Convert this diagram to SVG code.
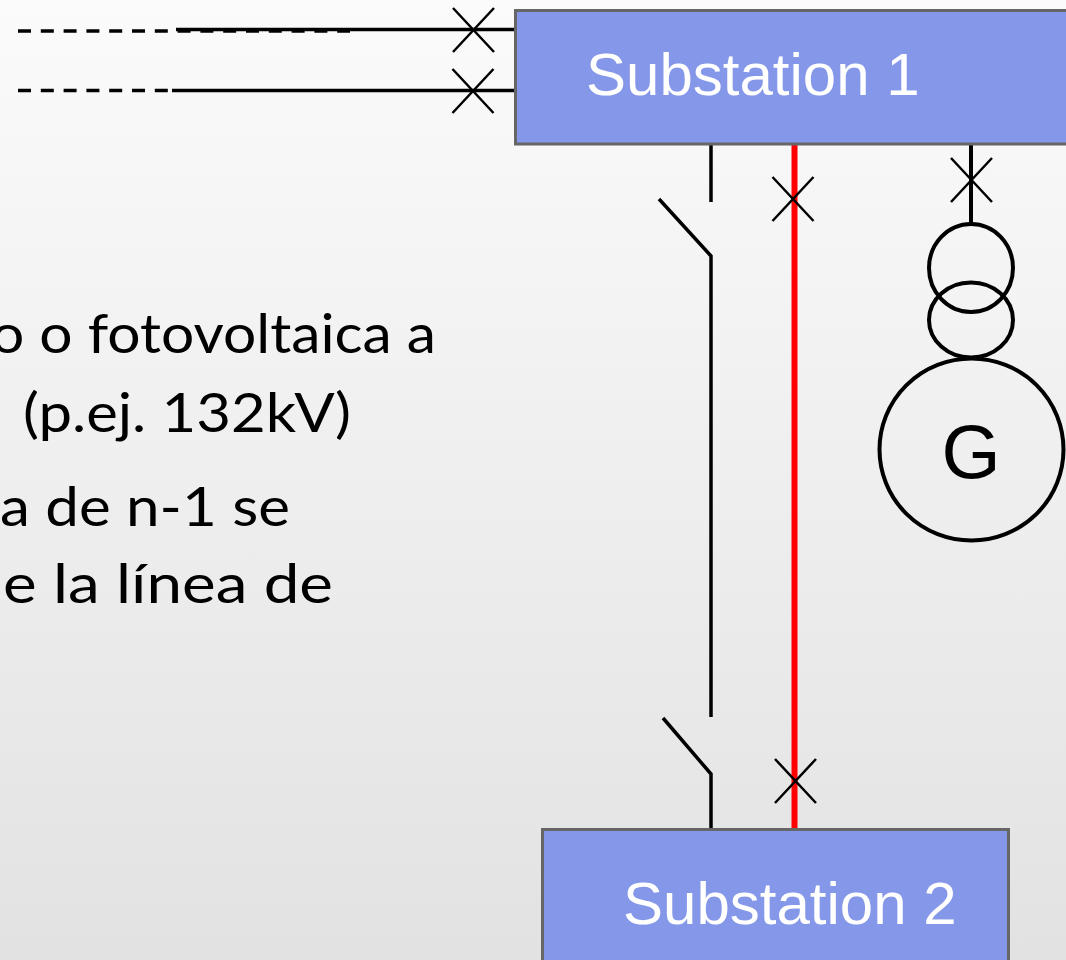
<svg xmlns="http://www.w3.org/2000/svg" width="1066" height="960" viewBox="0 0 1066 960">
<style>
.body{font-family:"Lato","Liberation Sans",sans-serif;font-size:54px;fill:#000;text-anchor:end}
.lbl{font-family:"Liberation Sans",Arial,sans-serif;font-size:60px;fill:#fff}
.box{fill:#8597e8;stroke:#666;stroke-width:3}
.ln{fill:none;stroke:#000;stroke-width:3.5}
.x{fill:none;stroke:#000;stroke-width:2.5}
.sym{fill:none;stroke:#000;stroke-width:4}
.red{fill:none;stroke:#f00;stroke-width:6}
</style>
<defs>
<linearGradient id="bg" x1="0" y1="0" x2="0" y2="1"><stop offset="0" stop-color="#fbfbfb"/><stop offset="1" stop-color="#e2e2e2"/></linearGradient>
<path id="cross" d="M-20.500 -22L20.500 22M20.500 -22L-20.500 22" class="x"/>
</defs>
<rect width="1066" height="960" fill="url(#bg)"/>
<g id="text">
<text class="body" x="436" y="353" textLength="445" lengthAdjust="spacingAndGlyphs">o o fotovoltaica a</text>
<text class="body" x="351" y="432" textLength="328" lengthAdjust="spacingAndGlyphs">(p.ej. 132kV)</text>
<text class="body" x="290" y="526" textLength="290" lengthAdjust="spacingAndGlyphs">a de n-1 se</text>
<text class="body" x="333" y="603" textLength="345" lengthAdjust="spacingAndGlyphs">le la línea de</text>
</g>
<g id="connectors">
<path class="ln" d="M176 29.500H515M172 90.500H515"/>
<path class="ln" d="M18 31H350M18 90.500H172" stroke-dasharray="13 9.800"/>
<path class="ln" d="M711 144V202M659 199L711 256V717M663 718L711 774V830"/>
<path class="red" d="M794.500 144V830"/>
<path class="sym" d="M971 144V224"/>
</g>
<g id="breakers">
<use href="#cross" x="473.500" y="30"/>
<use href="#cross" x="473" y="91"/>
<use href="#cross" x="793" y="199"/>
<use href="#cross" x="971.500" y="180"/>
<use href="#cross" x="795.500" y="781"/>
</g>
<g id="substation-1">
<rect class="box" x="515.500" y="10.500" width="560" height="133.500"/>
<text class="lbl" x="586" y="95">Substation 1</text>
</g>
<g id="substation-2">
<rect class="box" x="542.500" y="829.500" width="466" height="140"/>
<text class="lbl" x="623" y="924">Substation 2</text>
</g>
<g id="transformer">
<ellipse class="sym" cx="971" cy="268" rx="42" ry="44"/>
<ellipse class="sym" cx="971" cy="320" rx="42" ry="37.500"/>
</g>
<g id="generator">
<ellipse class="sym" cx="971.500" cy="449.500" rx="92" ry="91"/>
<text x="971" y="478" font-family="Liberation Sans, Arial, sans-serif" font-size="76" text-anchor="middle" fill="#000">G</text>
</g>
</svg>
